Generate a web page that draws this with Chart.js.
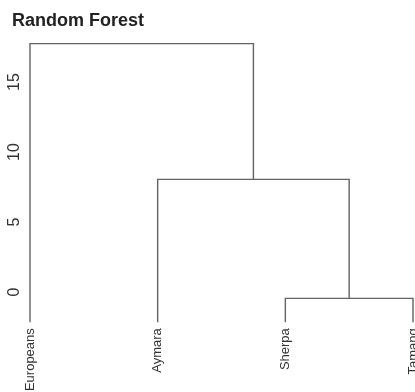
<!DOCTYPE html>
<html>
<head>
<meta charset="utf-8">
<script src="https://cdn.jsdelivr.net/npm/chart.js@4/dist/chart.umd.min.js"></script>
<style>
  html, body { margin: 0; padding: 0; background: #ffffff; }
  #wrap { position: relative; width: 415px; height: 392px; }
</style>
</head>
<body>
<div id="wrap"><canvas id="c" width="415" height="392"></canvas></div>
<script>
// ---- data ----
const chartTitle = 'Random Forest';
const leafLabels = ['Europeans', 'Aymara', 'Sherpa', 'Tamang'];
// R-style merge table: negative = leaf (1-based), positive = earlier merge (1-based)
const mergeLeft  = [-3, -2, -1];
const mergeRight = [-4,  1,  2];
const mergeHeights = [-0.6, 7.9, 17.6];
const leafHeight = -2.3;          // where the leaf branches end
const yTickValues = [0, 5, 10, 15];

// ---- build dendrogram segments from the data ----
const nodeX = [], nodeH = [];
function nodePos(ref) {
  if (ref < 0) return { x: -ref, h: leafHeight };
  return { x: nodeX[ref - 1], h: nodeH[ref - 1] };
}
const datasets = [];
for (let i = 0; i < mergeHeights.length; i++) {
  const a = nodePos(mergeLeft[i]);
  const b = nodePos(mergeRight[i]);
  const h = mergeHeights[i];
  nodeX.push((a.x + b.x) / 2);
  nodeH.push(h);
  datasets.push({
    data: [
      { x: a.x, y: a.h }, { x: a.x, y: h },
      { x: b.x, y: h },   { x: b.x, y: b.h }
    ],
    borderColor: '#636363',
    borderWidth: 1.4,
    pointRadius: 0,
    fill: false,
    tension: 0,
    clip: false
  });
}

const FONT = '"Liberation Sans", Arial, Helvetica, sans-serif';

const textPlugin = {
  id: 'dendroText',
  afterDraw(chart) {
    const ctx = chart.ctx;
    const xs = chart.scales.x, ys = chart.scales.y;
    ctx.save();
    // title
    ctx.fillStyle = '#222222';
    ctx.font = 'bold 18px ' + FONT;
    ctx.textAlign = 'left';
    ctx.textBaseline = 'alphabetic';
    ctx.fillText(chartTitle, 12, 26);
    // y tick labels (rotated, like R's default)
    ctx.fillStyle = '#333333';
    ctx.font = '16px ' + FONT;
    ctx.textAlign = 'center';
    ctx.textBaseline = 'middle';
    yTickValues.forEach(v => {
      const py = ys.getPixelForValue(v);
      ctx.save();
      ctx.translate(15, py + 2);
      ctx.rotate(-Math.PI / 2);
      ctx.fillText(String(v), 0, 0);
      ctx.restore();
    });
    // leaf labels
    ctx.font = '13px ' + FONT;
    ctx.textAlign = 'right';
    ctx.textBaseline = 'middle';
    leafLabels.forEach((lab, i) => {
      const px = xs.getPixelForValue(i + 1);
      ctx.save();
      ctx.translate(px, ys.getPixelForValue(leafHeight) + 6);
      ctx.rotate(-Math.PI / 2);
      ctx.fillText(lab, 0, 0);
      ctx.restore();
    });
    ctx.restore();
  }
};

new Chart(document.getElementById('c'), {
  type: 'line',
  data: { datasets },
  options: {
    responsive: false,
    animation: false,
    events: [],
    layout: { padding: { left: 30, right: 2, top: 38, bottom: 67 } },
    plugins: { legend: { display: false }, tooltip: { enabled: false }, title: { display: false } },
    scales: {
      x: { type: 'linear', min: 1, max: 4, display: false },
      y: { type: 'linear', min: -2.5, max: 18, display: false }
    }
  },
  plugins: [textPlugin]
});
</script>
</body>
</html>
